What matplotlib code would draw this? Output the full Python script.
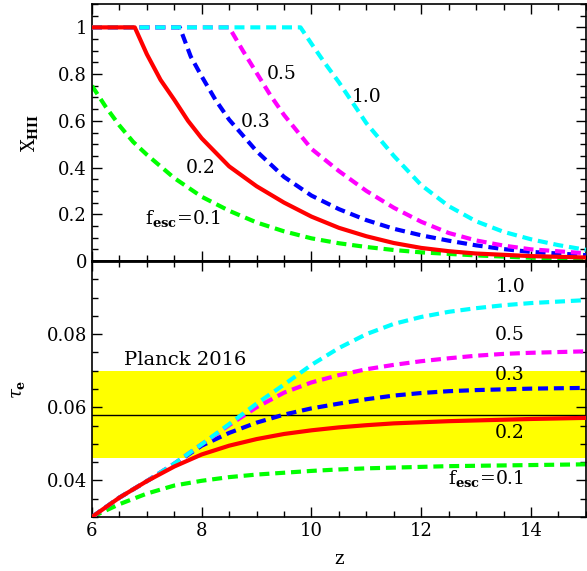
import numpy as np
import matplotlib
matplotlib.use('Agg')
import matplotlib.pyplot as plt
from matplotlib.ticker import MultipleLocator, FormatStrFormatter

plt.rcParams['font.family'] = 'DejaVu Serif'
plt.rcParams['mathtext.fontset'] = 'dejavuserif'

# ionized fraction X_HII(z) for each f_esc
z_x01 = [6, 6.25, 6.5, 6.75, 7, 7.5, 8, 8.5, 9, 9.5, 10, 10.5, 11, 11.5, 12, 13, 14, 15]
x_01 = [0.75, 0.66, 0.58, 0.51, 0.455, 0.355, 0.275, 0.215, 0.165, 0.127, 0.097, 0.076, 0.06, 0.047, 0.037, 0.024, 0.014, 0.008]

z_x02 = [6, 6.78, 7, 7.25, 7.5, 7.75, 8, 8.5, 9, 9.5, 10, 10.5, 11, 11.5, 12, 12.5, 13, 14, 15]
x_02 = [1, 1, 0.885, 0.775, 0.69, 0.60, 0.525, 0.405, 0.32, 0.25, 0.19, 0.142, 0.106, 0.077, 0.056, 0.042, 0.032, 0.021, 0.015]

z_x03 = [6, 7.6, 7.8, 8, 8.25, 8.5, 9, 9.5, 10, 10.5, 11, 11.5, 12, 12.5, 13, 13.5, 14, 15]
x_03 = [1, 1, 0.875, 0.79, 0.69, 0.605, 0.47, 0.36, 0.28, 0.222, 0.175, 0.138, 0.11, 0.087, 0.067, 0.051, 0.039, 0.025]

z_x05 = [6, 8.5, 8.75, 9, 9.25, 9.5, 10, 10.5, 11, 11.5, 12, 12.5, 13, 13.5, 14, 15]
x_05 = [1, 1, 0.9, 0.805, 0.71, 0.625, 0.48, 0.385, 0.30, 0.228, 0.168, 0.12, 0.088, 0.066, 0.05, 0.033]

z_x10 = [6, 9.8, 10, 10.25, 10.5, 11, 11.5, 12, 12.5, 13, 13.5, 14, 14.5, 15]
x_10 = [1, 1, 0.93, 0.845, 0.765, 0.59, 0.45, 0.325, 0.235, 0.17, 0.125, 0.093, 0.068, 0.048]

# electron scattering optical depth tau_e(z)
z_tau = [6, 6.5, 7, 7.5, 8, 8.5, 9, 9.5, 10, 10.5, 11, 11.5, 12, 12.5, 13, 13.5, 14, 15]
tau_01 = [0.030, 0.0335, 0.0364, 0.0386, 0.0399, 0.0409, 0.0416, 0.0421, 0.0426, 0.0430, 0.0433, 0.0435, 0.0437, 0.0439, 0.0440, 0.0441, 0.0442, 0.0444]
tau_02 = [0.030, 0.0353, 0.0398, 0.0438, 0.0471, 0.0495, 0.0513, 0.0527, 0.0537, 0.0545, 0.0551, 0.0556, 0.0559, 0.0562, 0.0564, 0.0566, 0.0568, 0.0571]
tau_03 = [0.030, 0.0353, 0.0398, 0.0445, 0.0495, 0.0530, 0.0558, 0.0580, 0.0597, 0.0610, 0.0622, 0.0632, 0.0639, 0.0644, 0.0647, 0.0649, 0.0651, 0.0653]
tau_05 = [0.030, 0.0353, 0.0398, 0.0446, 0.0499, 0.0551, 0.0600, 0.0640, 0.0668, 0.0688, 0.0704, 0.0716, 0.0726, 0.0734, 0.0741, 0.0746, 0.0749, 0.0753]
tau_10 = [0.030, 0.0353, 0.0398, 0.0446, 0.0499, 0.0554, 0.0610, 0.0662, 0.0716, 0.0762, 0.0800, 0.0828, 0.0847, 0.0861, 0.0871, 0.0879, 0.0885, 0.0893]

planck_tau = 0.058
planck_err = 0.012

fig = plt.figure(figsize=(5.87, 5.71), dpi=100)
ax1 = fig.add_axes([0.1567, 0.5429, 0.8413, 0.4501])
ax2 = fig.add_axes([0.1567, 0.0946, 0.8413, 0.4483])

lw = 3.0
dash = (2.4, 1.4)

# top panel
ax1.plot(z_x01, x_01, color='#00ff00', lw=lw, dashes=dash, zorder=2)
ax1.plot(z_x03, x_03, color='#0000ff', lw=lw, dashes=dash, zorder=3)
ax1.plot(z_x05, x_05, color='#ff00ff', lw=lw, dashes=dash, zorder=4)
ax1.plot(z_x10, x_10, color='#00ffff', lw=lw, dashes=dash, zorder=5)
ax1.plot(z_x02, x_02, color='#ff0000', lw=lw, zorder=6)

fs = 13
fl = 13.5
ax1.text(9.45, 0.80, '0.5', fontsize=fl, ha='center', va='center')
ax1.text(11.0, 0.70, '1.0', fontsize=fl, ha='center', va='center')
ax1.text(8.99, 0.595, '0.3', fontsize=fl, ha='center', va='center')
ax1.text(7.98, 0.40, '0.2', fontsize=fl, ha='center', va='center')
ax1.text(7.66, 0.18, r'f$_{\mathbf{esc}}$=0.1', fontsize=fl, ha='center', va='center')

ax1.set_xlim(6, 15)
ax1.set_ylim(0, 1.1)
ax1.set_ylabel(r'X$_{\mathbf{HII}}$', fontsize=fs)
ax1.yaxis.set_major_locator(MultipleLocator(0.2))
ax1.yaxis.set_minor_locator(MultipleLocator(0.05))
ax1.yaxis.set_major_formatter(plt.FuncFormatter(lambda v, p: ('%g' % round(v, 2))))
ax1.tick_params(labelbottom=False)

# bottom panel
ax2.axhspan(planck_tau - planck_err, planck_tau + planck_err, color='#ffff00', lw=0, zorder=0)
ax2.axhline(planck_tau, color='black', lw=1.0, zorder=1)
ax2.plot(z_tau, tau_01, color='#00ff00', lw=lw, dashes=dash, zorder=2)
ax2.plot(z_tau, tau_03, color='#0000ff', lw=lw, dashes=dash, zorder=3)
ax2.plot(z_tau, tau_05, color='#ff00ff', lw=lw, dashes=dash, zorder=4)
ax2.plot(z_tau, tau_10, color='#00ffff', lw=lw, dashes=dash, zorder=5)
ax2.plot(z_tau, tau_02, color='#ff0000', lw=lw, zorder=6)

ax2.text(13.63, 0.0928, '1.0', fontsize=fl, ha='center', va='center')
ax2.text(13.62, 0.0798, '0.5', fontsize=fl, ha='center', va='center')
ax2.text(13.62, 0.0689, '0.3', fontsize=fl, ha='center', va='center')
ax2.text(13.62, 0.0530, '0.2', fontsize=fl, ha='center', va='center')
ax2.text(13.18, 0.0404, r'f$_{\mathbf{esc}}$=0.1', fontsize=fl, ha='center', va='center')
ax2.text(7.69, 0.0728, 'Planck 2016', fontsize=14, ha='center', va='center')

ax2.set_xlim(6, 15)
ax2.set_ylim(0.03, 0.1)
ax2.set_xlabel('z', fontsize=fs, labelpad=7)
ax2.set_ylabel(r'$\tau_{\mathbf{e}}$', fontsize=fs)
ax2.yaxis.set_major_formatter(FormatStrFormatter('%.2f'))
ax2.set_yticks([0.04, 0.06, 0.08])

for ax in (ax1, ax2):
    ax.xaxis.set_major_locator(MultipleLocator(2))
    ax.xaxis.set_minor_locator(MultipleLocator(0.5))
    ax.tick_params(which='both', direction='in', top=True, right=True, labelsize=fs, width=1.0)
    ax.tick_params(which='major', length=7)
    ax.tick_params(which='minor', length=4)
    for s in ax.spines.values():
        s.set_linewidth(1.2)
ax2.yaxis.set_minor_locator(MultipleLocator(0.005))
ax1.spines['bottom'].set_linewidth(2)
ax2.spines['top'].set_linewidth(2)
ax1.yaxis.set_label_coords(-0.105, 0.5)
ax2.yaxis.set_label_coords(-0.131, 0.5)

fig.savefig('out.png', dpi=100)
